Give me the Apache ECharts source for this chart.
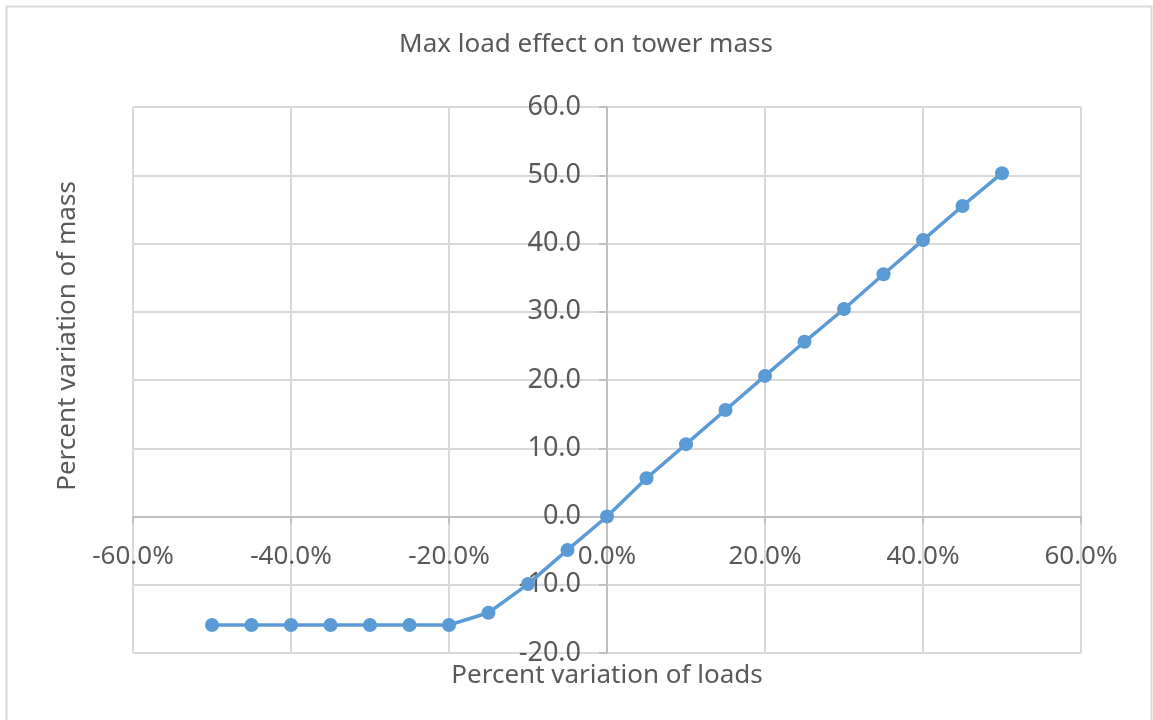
<!DOCTYPE html>
<html>
<head>
<meta charset="utf-8">
<script src="https://cdn.jsdelivr.net/npm/echarts@6/dist/echarts.min.js"></script>
<style>
  html, body { margin: 0; padding: 0; background: #ffffff; }
  #chart { width: 1153px; height: 720px; }
</style>
</head>
<body>
<div id="chart"></div>
<script>
// Percent variation of loads (x) and resulting percent variation of tower mass (y)
const loadVariation = [-50, -45, -40, -35, -30, -25, -20, -15, -10, -5, 0, 5, 10, 15, 20, 25, 30, 35, 40, 45, 50];
const massVariation = [-15.9, -15.9, -15.9, -15.9, -15.9, -15.9, -15.9, -14.1, -9.9, -4.9, 0, 5.6, 10.6, 15.6, 20.6, 25.6, 30.4, 35.5, 40.5, 45.5, 50.3];

const chartTitle = 'Max load effect on tower mass';
const xAxisName = 'Percent variation of loads';
const yAxisName = 'Percent variation of mass';

const FONT = '"Noto Sans", sans-serif';
const TEXT = '#595959';
const GRID = '#d9d9d9';
const AXIS = '#bfbfbf';

const GRID_LEFT = 133, GRID_TOP = 107, GRID_W = 948, GRID_H = 546;

const points = loadVariation.map((x, i) => [x, massVariation[i]]);

const chart = echarts.init(document.getElementById('chart'), null, { renderer: 'canvas' });

chart.setOption({
  animation: false,
  backgroundColor: '#ffffff',
  title: {
    text: chartTitle,
    left: 581,
    top: 27,
    textAlign: 'center',
    textStyle: { color: TEXT, fontFamily: FONT, fontSize: 26, fontWeight: 'normal' }
  },
  grid: { left: GRID_LEFT, top: GRID_TOP, width: GRID_W, height: GRID_H, containLabel: false },
  xAxis: {
    type: 'value',
    position: 'bottom',
    min: -60,
    max: 60,
    interval: 20,
    axisLine: { show: true, onZero: false, lineStyle: { color: AXIS, width: 2 } },
    axisTick: { show: true, length: 7, lineStyle: { color: AXIS, width: 2 } },
    splitLine: { show: true, lineStyle: { color: GRID, width: 2 } },
    axisLabel: {
      color: TEXT, fontFamily: FONT, fontSize: 26, margin: 27,
      showMinLabel: true, showMaxLabel: true,
      formatter: v => v.toFixed(1) + '%'
    }
  },
  yAxis: {
    type: 'value',
    position: 'left',
    min: -20,
    max: 60,
    interval: 10,
    axisLine: { show: true, onZero: false, lineStyle: { color: AXIS, width: 2 } },
    axisTick: { show: true, length: 8, lineStyle: { color: AXIS, width: 2 } },
    splitLine: { show: true, lineStyle: { color: GRID, width: 2 } },
    axisLabel: {
      color: TEXT, fontFamily: FONT, fontSize: 27, margin: 26,
      showMinLabel: true, showMaxLabel: true,
      formatter: v => v.toFixed(1)
    }
  },
  series: [{
    type: 'line',
    data: points,
    symbol: 'circle',
    symbolSize: 14,
    showSymbol: true,
    lineStyle: { color: '#5b9bd5', width: 3.5 },
    itemStyle: { color: '#5b9bd5' },
    z: 5
  }],
  graphic: [
    {
      type: 'rect',
      shape: { x: 6.5, y: 6.5, width: 1145, height: 730 },
      style: { fill: null, stroke: GRID, lineWidth: 2 },
      silent: true
    },
    {
      type: 'text',
      x: 68,
      y: 336,
      rotation: Math.PI / 2,
      style: {
        text: yAxisName, fill: TEXT, font: '26px ' + FONT,
        align: 'center', verticalAlign: 'middle'
      }
    },
    {
      type: 'text',
      x: 607,
      y: 676,
      style: {
        text: xAxisName, fill: TEXT, font: '26px ' + FONT,
        align: 'center', verticalAlign: 'middle'
      }
    }
  ]
});

// Move both axes (line, ticks and labels) so they cross at the origin
const zeroX = chart.convertToPixel({ xAxisIndex: 0 }, 0);
const zeroY = chart.convertToPixel({ yAxisIndex: 0 }, 0);
chart.setOption({
  yAxis: { offset: GRID_LEFT - zeroX },
  xAxis: { offset: zeroY - (GRID_TOP + GRID_H) }
});
</script>
</body>
</html>
